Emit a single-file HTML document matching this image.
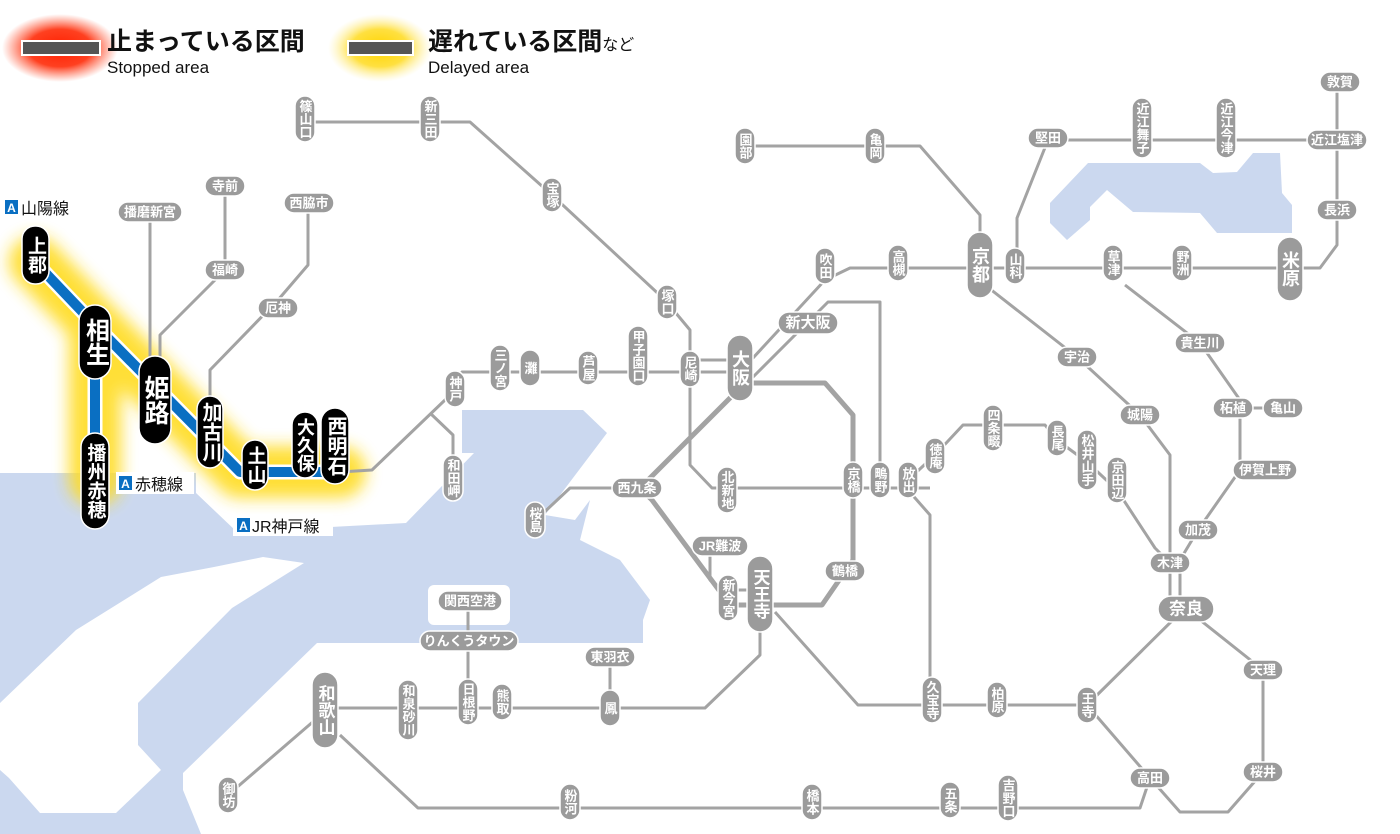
<!DOCTYPE html>
<html><head><meta charset="utf-8">
<style>
html,body{margin:0;padding:0;background:#fff;}
svg{display:block;font-family:"Liberation Sans","Noto Sans CJK JP",sans-serif;}
.l{fill:none;stroke:#a3a3a3;stroke-width:3;stroke-linejoin:round;}
.lt{fill:none;stroke:#a3a3a3;stroke-width:5;stroke-linejoin:round;}
.g{fill:#9b9b9b;stroke:#fff;stroke-width:1.5;}
.gt{fill:#fff;font-size:13px;font-weight:bold;text-anchor:middle;dominant-baseline:central;}
.v{writing-mode:vertical-rl;}
.b{fill:#000;stroke:#fff;stroke-width:1.5;}
.bt{fill:#fff;font-weight:bold;text-anchor:middle;dominant-baseline:central;writing-mode:vertical-rl;}
</style></head><body>
<svg width="1400" height="834" viewBox="0 0 1400 834" xmlns="http://www.w3.org/2000/svg">
<defs>
<filter id="bl2" x="-50%" y="-50%" width="200%" height="200%"><feGaussianBlur stdDeviation="8"/></filter>
<radialGradient id="rg"><stop offset="0" stop-color="#ff2000"/><stop offset="0.55" stop-color="#ff4020"/><stop offset="1" stop-color="#ff6040" stop-opacity="0"/></radialGradient>
<radialGradient id="yg"><stop offset="0" stop-color="#ffd400"/><stop offset="0.55" stop-color="#ffe040"/><stop offset="1" stop-color="#fff0a0" stop-opacity="0"/></radialGradient>
</defs>
<!-- sea -->
<polygon fill="#cbd8ef" points="0,473 196,473 196,493 237,532 406,523 474,453 462,453 462,410 583,410 607,433 545,515 575,520 590,500 580,540 620,560 650,600 643,620 643,643 317,643 183,773 183,790 201,834 0,834"/>
<polygon fill="#fff" points="0,703 76,630 161,577 214,567 263,557 304,563 232,608 138,703 138,745 161,770 116,813 40,813 9,778 0,770"/>
<rect x="428" y="585" width="82" height="40" rx="6" fill="#fff"/>
<!-- lake -->
<polygon fill="#cbd8ef" points="1050,203 1088,163 1200,163 1213,173 1237,172 1253,153 1280,153 1282,193 1292,205 1292,233 1217,233 1200,213 1133,212 1107,190 1090,207 1090,220 1067,240 1050,223"/>

<!-- legend -->
<ellipse cx="60" cy="48" rx="58" ry="34" fill="url(#rg)"/>
<rect x="22" y="41" width="78" height="14" fill="#555" stroke="#fff" stroke-width="2"/>
<ellipse cx="380" cy="48" rx="52" ry="34" fill="url(#yg)"/>
<rect x="348" y="41" width="65" height="14" fill="#555" stroke="#fff" stroke-width="2"/>
<text x="107" y="50" font-size="25" font-weight="bold" fill="#111">止まっている区間</text>
<text x="107" y="73" font-size="17" fill="#111">Stopped area</text>
<text x="428" y="50" font-size="25" font-weight="bold" fill="#111">遅れている区間<tspan font-size="16" font-weight="normal">など</tspan></text>
<text x="428" y="73" font-size="17" fill="#111">Delayed area</text>

<!-- glow -->
<path d="M35,262 L95,325 L95,480 M95,325 L240,472 L340,472" fill="none" stroke="#ffdc20" stroke-width="52" stroke-linejoin="round" stroke-linecap="round" filter="url(#bl2)" opacity="0.9"/>

<!-- gray lines -->
<g class="l">
<path d="M305,122 L470,122 L552,195 L665,300 L690,330 L690,465 L712,488 L930,488"/>
<path d="M225,186 L225,270 L160,335 L160,370"/>
<path d="M150,212 L150,370"/>
<path d="M308,203 L308,265 L278,300 L210,370 L210,410"/>
<path d="M340,472 L372,470 L445,400 L462,372 L740,372"/>
<path d="M430,413 L453,435 L453,478"/>
<path d="M690,360 L740,360"/>
<path d="M745,146 L920,146 L980,215 L980,270"/>
<path d="M740,372 L825,280 L850,268 L1320,268 L1337,245 L1337,82"/>
<path d="M750,380 L828,302 L880,302 L880,480"/>
<path d="M1048,140 L1335,140"/>
<path d="M1048,140 L1017,218 L1017,268"/>
<path d="M985,285 L1077,357 L1140,415 L1170,455 L1170,605"/>
<path d="M1125,285 L1200,343 L1240,400 L1240,470 L1198,530 L1180,560 L1180,605"/>
<path d="M1233,408 L1283,408"/>
<path d="M908,480 L935,455 L963,425 L1045,425 L1057,440 L1087,462 L1117,490 L1155,548 L1170,563"/>
<path d="M908,490 L930,515 L930,705"/>
<path d="M1185,608 L1087,705 L858,705 L775,612"/>
<path d="M1185,608 L1263,670 L1263,772 L1228,812 L1180,812 L1150,778 L1087,705"/>
<path d="M1150,778 L1140,808 L418,808 L340,735"/>
<path d="M315,720 L228,795"/>
<path d="M760,620 L760,655 L705,708 L325,708"/>
<path d="M468,601 L468,702"/>
<path d="M610,657 L610,708"/>
<path d="M620,488 L570,488 L538,518"/>
<path d="M710,546 L710,580 L730,598"/>
<path d="M730,590 L760,590"/>
</g>
<g class="lt">
<path d="M745,383 L825,383 L853,415 L853,560 L822,605 L730,605 L652,500 L640,488 L745,383"/>
</g>

<!-- highlighted line -->
<path d="M35,262 L95,325 L95,480 M95,325 L240,472 L340,472" fill="none" stroke="#fff" stroke-width="15" stroke-linejoin="round"/>
<path d="M35,262 L95,325 L95,480 M95,325 L240,472 L340,472" fill="none" stroke="#0a6fc2" stroke-width="10" stroke-linejoin="round"/>

<!-- vertical gray stations -->
<g>
<rect class="g" x="295" y="96" width="20" height="46" rx="10"/><text class="gt v" x="305" y="119">篠山口</text>
<rect class="g" x="420" y="96" width="20" height="46" rx="10"/><text class="gt v" x="430" y="119">新三田</text>
<rect class="g" x="542" y="178" width="20" height="34" rx="10"/><text class="gt v" x="552" y="195">宝塚</text>
<rect class="g" x="657" y="285" width="20" height="34" rx="10"/><text class="gt v" x="667" y="302">塚口</text>
<rect class="g" x="490" y="345" width="20" height="46" rx="10"/><text class="gt v" x="500" y="368">三ノ宮</text>
<rect class="g" x="520" y="350" width="20" height="36" rx="10"/><text class="gt v" x="530" y="368">灘</text>
<rect class="g" x="578" y="351" width="20" height="34" rx="10"/><text class="gt v" x="588" y="368">芦屋</text>
<rect class="g" x="628" y="326" width="20" height="60" rx="10"/><text class="gt v" x="638" y="356">甲子園口</text>
<rect class="g" x="680" y="351" width="20" height="36" rx="10"/><text class="gt v" x="690" y="369">尼崎</text>
<rect class="g" x="445" y="371" width="20" height="36" rx="10"/><text class="gt v" x="455" y="389">神戸</text>
<rect class="g" x="443" y="455" width="20" height="46" rx="10"/><text class="gt v" x="453" y="478">和田岬</text>
<rect class="g" x="815" y="248" width="20" height="36" rx="10"/><text class="gt v" x="825" y="266">吹田</text>
<rect class="g" x="888" y="245" width="20" height="36" rx="10"/><text class="gt v" x="898" y="263">高槻</text>
<rect class="g" x="1005" y="248" width="20" height="36" rx="10"/><text class="gt v" x="1015" y="266">山科</text>
<rect class="g" x="1103" y="245" width="20" height="36" rx="10"/><text class="gt v" x="1113" y="263">草津</text>
<rect class="g" x="1172" y="245" width="20" height="36" rx="10"/><text class="gt v" x="1182" y="263">野洲</text>
<rect class="g" x="735" y="128" width="20" height="36" rx="10"/><text class="gt v" x="745" y="146">園部</text>
<rect class="g" x="865" y="128" width="20" height="36" rx="10"/><text class="gt v" x="875" y="146">亀岡</text>
<rect class="g" x="1132" y="98" width="20" height="60" rx="10"/><text class="gt v" x="1142" y="128">近江舞子</text>
<rect class="g" x="1216" y="98" width="20" height="60" rx="10"/><text class="gt v" x="1226" y="128">近江今津</text>
<rect class="g" x="717" y="467" width="20" height="46" rx="10"/><text class="gt v" x="727" y="490">北新地</text>
<rect class="g" x="843" y="462" width="20" height="36" rx="10"/><text class="gt v" x="853" y="480">京橋</text>
<rect class="g" x="870" y="462" width="20" height="36" rx="10"/><text class="gt v" x="880" y="480">鴫野</text>
<rect class="g" x="898" y="462" width="20" height="36" rx="10"/><text class="gt v" x="908" y="480">放出</text>
<rect class="g" x="925" y="438" width="20" height="36" rx="10"/><text class="gt v" x="935" y="456">徳庵</text>
<rect class="g" x="983" y="405" width="20" height="46" rx="10"/><text class="gt v" x="993" y="428">四条畷</text>
<rect class="g" x="1047" y="420" width="20" height="36" rx="10"/><text class="gt v" x="1057" y="438">長尾</text>
<rect class="g" x="1077" y="430" width="20" height="60" rx="10"/><text class="gt v" x="1087" y="460">松井山手</text>
<rect class="g" x="1107" y="457" width="20" height="46" rx="10"/><text class="gt v" x="1117" y="480">京田辺</text>
<rect class="g" x="525" y="502" width="20" height="36" rx="10"/><text class="gt v" x="535" y="520">桜島</text>
<rect class="g" x="718" y="575" width="20" height="46" rx="10"/><text class="gt v" x="728" y="598">新今宮</text>
<rect class="g" x="922" y="677" width="20" height="46" rx="10"/><text class="gt v" x="932" y="700">久宝寺</text>
<rect class="g" x="987" y="682" width="20" height="36" rx="10"/><text class="gt v" x="997" y="700">柏原</text>
<rect class="g" x="1077" y="687" width="20" height="36" rx="10"/><text class="gt v" x="1087" y="705">王寺</text>
<rect class="g" x="600" y="690" width="20" height="36" rx="10"/><text class="gt v" x="610" y="708">鳳</text>
<rect class="g" x="492" y="684" width="20" height="36" rx="10"/><text class="gt v" x="502" y="702">熊取</text>
<rect class="g" x="458" y="679" width="20" height="46" rx="10"/><text class="gt v" x="468" y="702">日根野</text>
<rect class="g" x="398" y="680" width="20" height="60" rx="10"/><text class="gt v" x="408" y="710">和泉砂川</text>
<rect class="g" x="218" y="777" width="20" height="36" rx="10"/><text class="gt v" x="228" y="795">御坊</text>
<rect class="g" x="560" y="784" width="20" height="36" rx="10"/><text class="gt v" x="570" y="802">粉河</text>
<rect class="g" x="802" y="784" width="20" height="36" rx="10"/><text class="gt v" x="812" y="802">橋本</text>
<rect class="g" x="940" y="782" width="20" height="36" rx="10"/><text class="gt v" x="950" y="800">五条</text>
<rect class="g" x="998" y="775" width="20" height="46" rx="10"/><text class="gt v" x="1008" y="798">吉野口</text>
</g>
<!-- large gray vertical -->
<g>
<rect class="g" x="727" y="335" width="26" height="66" rx="13"/><text class="gt v" x="740" y="368" style="font-size:18px">大阪</text>
<rect class="g" x="967" y="232" width="26" height="66" rx="13"/><text class="gt v" x="980" y="265" style="font-size:18px">京都</text>
<rect class="g" x="1277" y="237" width="26" height="64" rx="13"/><text class="gt v" x="1290" y="269" style="font-size:18px">米原</text>
<rect class="g" x="747" y="556" width="26" height="76" rx="13"/><text class="gt v" x="760" y="594" style="font-size:17px">天王寺</text>
<rect class="g" x="312" y="672" width="26" height="76" rx="13"/><text class="gt v" x="325" y="710" style="font-size:17px">和歌山</text>
</g>
<!-- horizontal gray -->
<g>
<rect class="g" x="205" y="176" width="40" height="20" rx="10"/><text class="gt" x="225" y="186">寺前</text>
<rect class="g" x="205" y="260" width="40" height="20" rx="10"/><text class="gt" x="225" y="270">福崎</text>
<rect class="g" x="118" y="202" width="64" height="20" rx="10"/><text class="gt" x="150" y="212">播磨新宮</text>
<rect class="g" x="284" y="193" width="50" height="20" rx="10"/><text class="gt" x="309" y="203">西脇市</text>
<rect class="g" x="258" y="298" width="40" height="20" rx="10"/><text class="gt" x="278" y="308">厄神</text>
<rect class="g" x="778" y="312" width="60" height="22" rx="11"/><text class="gt" x="808" y="323" style="font-size:15px">新大阪</text>
<rect class="g" x="1028" y="128" width="40" height="20" rx="10"/><text class="gt" x="1048" y="138">堅田</text>
<rect class="g" x="1307" y="130" width="60" height="20" rx="10"/><text class="gt" x="1337" y="140">近江塩津</text>
<rect class="g" x="1320" y="72" width="40" height="20" rx="10"/><text class="gt" x="1340" y="82">敦賀</text>
<rect class="g" x="1317" y="200" width="40" height="20" rx="10"/><text class="gt" x="1337" y="210">長浜</text>
<rect class="g" x="1057" y="347" width="40" height="20" rx="10"/><text class="gt" x="1077" y="357">宇治</text>
<rect class="g" x="1120" y="405" width="40" height="20" rx="10"/><text class="gt" x="1140" y="415">城陽</text>
<rect class="g" x="1175" y="333" width="50" height="20" rx="10"/><text class="gt" x="1200" y="343">貴生川</text>
<rect class="g" x="1213" y="398" width="40" height="20" rx="10"/><text class="gt" x="1233" y="408">柘植</text>
<rect class="g" x="1263" y="398" width="40" height="20" rx="10"/><text class="gt" x="1283" y="408">亀山</text>
<rect class="g" x="1233" y="460" width="64" height="20" rx="10"/><text class="gt" x="1265" y="470">伊賀上野</text>
<rect class="g" x="1178" y="520" width="40" height="20" rx="10"/><text class="gt" x="1198" y="530">加茂</text>
<rect class="g" x="1150" y="553" width="40" height="20" rx="10"/><text class="gt" x="1170" y="563">木津</text>
<rect class="g" x="1158" y="596" width="56" height="26" rx="13"/><text class="gt" x="1186" y="609" style="font-size:17px">奈良</text>
<rect class="g" x="1243" y="660" width="40" height="20" rx="10"/><text class="gt" x="1263" y="670">天理</text>
<rect class="g" x="1243" y="762" width="40" height="20" rx="10"/><text class="gt" x="1263" y="772">桜井</text>
<rect class="g" x="1130" y="768" width="40" height="20" rx="10"/><text class="gt" x="1150" y="778">高田</text>
<rect class="g" x="612" y="478" width="50" height="20" rx="10"/><text class="gt" x="637" y="488">西九条</text>
<rect class="g" x="825" y="561" width="40" height="20" rx="10"/><text class="gt" x="845" y="571">鶴橋</text>
<rect class="g" x="692" y="536" width="56" height="20" rx="10"/><text class="gt" x="720" y="546">JR難波</text>
<rect class="g" x="438" y="591" width="64" height="20" rx="10"/><text class="gt" x="470" y="601">関西空港</text>
<rect class="g" x="420" y="631" width="98" height="20" rx="10"/><text class="gt" x="469" y="641">りんくうタウン</text>
<rect class="g" x="585" y="647" width="50" height="20" rx="10"/><text class="gt" x="610" y="657">東羽衣</text>
</g>

<!-- black stations -->
<g>
<rect class="b" x="22" y="226" width="27" height="58" rx="13"/><text class="bt" x="35.5" y="255" font-size="19">上郡</text>
<rect class="b" x="79" y="305" width="32" height="74" rx="16"/><text class="bt" x="95" y="342" font-size="24">相生</text>
<rect class="b" x="81" y="433" width="28" height="96" rx="14"/><text class="bt" x="95" y="481" font-size="19">播州赤穂</text>
<rect class="b" x="139" y="356" width="32" height="88" rx="16"/><text class="bt" x="155" y="400" font-size="25">姫路</text>
<rect class="b" x="197" y="396" width="26" height="72" rx="13"/><text class="bt" x="210" y="432" font-size="20">加古川</text>
<rect class="b" x="242" y="440" width="26" height="50" rx="13"/><text class="bt" x="255" y="465" font-size="19">土山</text>
<rect class="b" x="292" y="412" width="26" height="66" rx="13"/><text class="bt" x="305" y="445" font-size="18">大久保</text>
<rect class="b" x="321" y="408" width="28" height="76" rx="14"/><text class="bt" x="335" y="446" font-size="20">西明石</text>
</g>

<!-- line labels -->
<g font-size="16">
<rect x="3" y="196" width="78" height="22" fill="#fff"/>
<rect x="5" y="200" width="13" height="14" fill="#0a6fc2"/><text x="11.5" y="212" fill="#fff" font-size="12" font-weight="bold" text-anchor="middle">A</text>
<text x="21" y="214" fill="#111">山陽線</text>
<rect x="116" y="472" width="78" height="22" fill="#fff"/>
<rect x="119" y="476" width="13" height="14" fill="#0a6fc2"/><text x="125.5" y="488" fill="#fff" font-size="12" font-weight="bold" text-anchor="middle">A</text>
<text x="135" y="490" fill="#111">赤穂線</text>
<rect x="233" y="514" width="100" height="22" fill="#fff"/>
<rect x="237" y="518" width="13" height="14" fill="#0a6fc2"/><text x="243.5" y="530" fill="#fff" font-size="12" font-weight="bold" text-anchor="middle">A</text>
<text x="252" y="532" fill="#111">JR神戸線</text>
</g>
</svg>
</body></html>
